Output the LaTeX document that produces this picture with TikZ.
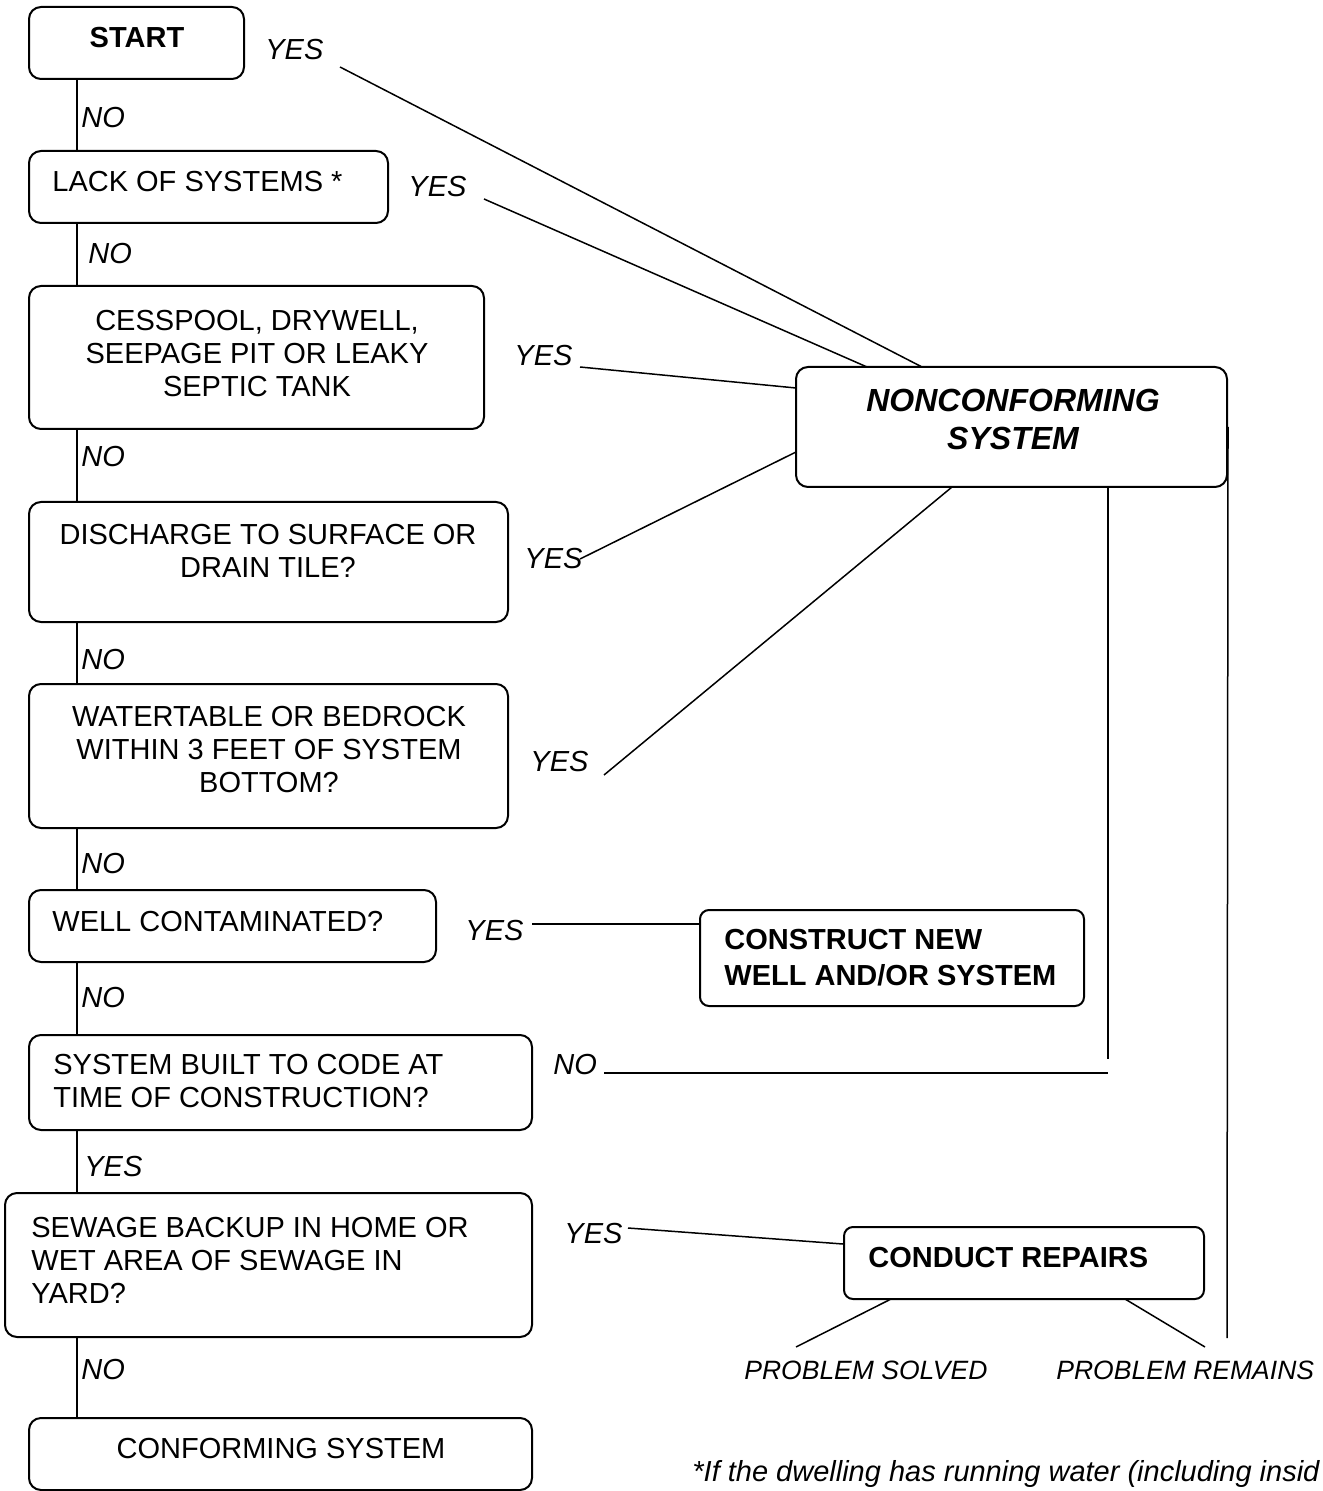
\documentclass[tikz,border=0pt]{standalone}
\usepackage{fontspec}
\setmainfont{Liberation Sans}
\usetikzlibrary{fit}
\tikzset{
  box/.style={draw, line width=1pt, rounded corners=6pt, inner sep=0pt},
  sbox/.style={box, rounded corners=4.5pt},
  conn/.style={line width=0.75pt},
  txt/.style={inner sep=0pt, font=\fontsize{14.5}{16.5}\selectfont},
  btxt/.style={inner sep=0pt, font=\fontsize{14.5}{18}\selectfont\bfseries},
  lbl/.style={inner sep=0pt, font=\fontsize{14.5}{16.5}\selectfont\itshape},
  slbl/.style={inner sep=0pt, font=\fontsize{13.25}{16}\selectfont\itshape},
}
\begin{document}
\begin{tikzpicture}[x=0.5pt, y=-0.5pt]
\useasboundingbox (0,0) rectangle (1322,1491);
\clip (0,0) rectangle (1322,1491);

% ---------- boxes ----------
\node[box, fit={(29,7) (244,79)}] (start) {};
\node[box, fit={(29,151) (388,223)}] (lack) {};
\node[box, fit={(29,286) (484,429)}] (cess) {};
\node[box, fit={(29,502) (508,622)}] (disch) {};
\node[box, fit={(29,684) (508,828)}] (water) {};
\node[box, fit={(29,890) (436,962)}] (well) {};
\node[box, fit={(29,1035) (532,1130)}] (built) {};
\node[box, fit={(5,1193) (532,1337)}] (sewage) {};
\node[box, fit={(29,1418) (532,1490)}] (conform) {};
\node[box, fit={(796,367) (1227,487)}] (nc) {};
\node[sbox, fit={(700,910) (1084,1006)}] (constr) {};
\node[sbox, fit={(844,1227) (1204,1299)}] (repairs) {};

% ---------- box texts ----------
\node[btxt, anchor=base] (startT) at (137,48) {START};
\node[txt, anchor=base west] (lackT) at (52,192) {LACK OF SYSTEMS *};
\node[txt, align=center] (cessT) at (257,353.5) {CESSPOOL, DRYWELL,\\SEEPAGE PIT OR LEAKY\\SEPTIC TANK};
\node[txt, align=center] (dischT) at (268,550.5) {DISCHARGE TO SURFACE OR\\DRAIN TILE?};
\node[txt, align=center] (waterT) at (269,750) {WATERTABLE OR BEDROCK\\WITHIN 3 FEET OF SYSTEM\\BOTTOM?};
\node[txt, anchor=base west] (wellT) at (52,931) {WELL CONTAMINATED?};
\node[txt, align=left, anchor=west] (builtT) at (53,1081) {SYSTEM BUILT TO CODE AT\\TIME OF CONSTRUCTION?};
\node[txt, align=left, anchor=west] (sewageT) at (31,1260) {SEWAGE BACKUP IN HOME OR\\WET AREA OF SEWAGE IN\\YARD?};
\node[txt, anchor=base] (conformT) at (281,1458) {CONFORMING SYSTEM};
\node[inner sep=0pt, align=center, font=\fontsize{16}{19}\selectfont\bfseries\itshape] (ncT) at (1013,419) {NONCONFORMING\\SYSTEM};
\node[btxt, align=left, anchor=west] (constrT) at (724,958) {CONSTRUCT NEW\\WELL AND/OR SYSTEM};
\node[btxt, anchor=base west] (repairsT) at (868,1267) {CONDUCT REPAIRS};

% ---------- labels ----------
\node[lbl, anchor=base west] (yes1) at (265,60) {YES};
\node[lbl, anchor=base west] (no1) at (81,128) {NO};
\node[lbl, anchor=base west] (yes2) at (408,197) {YES};
\node[lbl, anchor=base west] (no2) at (88,264) {NO};
\node[lbl, anchor=base west] (yes3) at (514,366) {YES};
\node[lbl, anchor=base west] (no3) at (81,467) {NO};
\node[lbl, anchor=base west] (yes4) at (524,568) {YES};
\node[lbl, anchor=base west] (no4) at (81,669) {NO};
\node[lbl, anchor=base west] (yes5) at (530,771) {YES};
\node[lbl, anchor=base west] (no5) at (81,873) {NO};
\node[lbl, anchor=base west] (yes6) at (465,940) {YES};
\node[lbl, anchor=base west] (no6) at (81,1007) {NO};
\node[lbl, anchor=base west] (no7) at (553,1074) {NO};
\node[lbl, anchor=base west] (yes7) at (84,1176) {YES};
\node[lbl, anchor=base west] (yes8) at (564,1243) {YES};
\node[lbl, anchor=base west] (no8) at (81,1379) {NO};
\node[slbl, anchor=base west] (solved) at (744,1379) {PROBLEM SOLVED};
\node[slbl, anchor=base west] (remains) at (1056,1379) {PROBLEM REMAINS};
\node[lbl, anchor=base west] (foot) at (692,1481) {*If the dwelling has running water (including insid};

% ---------- connector end points ----------
\coordinate (spine) at (77,0);
\coordinate (y1e) at (340,67);
\coordinate (nc1) at (922,367);
\coordinate (y2e) at (484,199);
\coordinate (nc2) at (867,367);
\coordinate (y3e) at (580,367);
\coordinate (nc3) at (796,388);
\coordinate (y4e) at (580,559);
\coordinate (nc4) at (796,452);
\coordinate (y5e) at (604,775);
\coordinate (nc5) at (952,487);
\coordinate (y6e) at (532,924);
\coordinate (no7e) at (604,1073);
\coordinate (ncv) at (1108,1059);
\coordinate (ncvh) at (1108,1073);
\coordinate (y8e) at (628,1228);
\coordinate (rp1) at (891,1299);
\coordinate (sv) at (796,1347);
\coordinate (rp2) at (1125,1299);
\coordinate (rm) at (1205,1347);
\coordinate (pr) at (1227,1338);

% ---------- connectors ----------
\draw[conn] (start.south -| spine) -- (lack.north -| spine);
\draw[conn] (lack.south -| spine) -- (cess.north -| spine);
\draw[conn] (cess.south -| spine) -- (disch.north -| spine);
\draw[conn] (disch.south -| spine) -- (water.north -| spine);
\draw[conn] (water.south -| spine) -- (well.north -| spine);
\draw[conn] (well.south -| spine) -- (built.north -| spine);
\draw[conn] (built.south -| spine) -- (sewage.north -| spine);
\draw[conn] (sewage.south -| spine) -- (conform.north -| spine);

\draw[conn] (y1e) -- (nc1);
\draw[conn] (y2e) -- (nc2);
\draw[conn] (y3e) -- (nc3);
\draw[conn] (y4e) -- (nc4);
\draw[conn] (y5e) -- (nc5);
\draw[conn] (y6e) -- (constr.west |- y6e);
\draw[conn] (nc.south -| ncv) -- (ncv);
\draw[conn] (no7e) -- (ncvh);
\draw[conn] (y8e) -- (repairs.west |- 0,1244);
\draw[conn] (rp1) -- (sv);
\draw[conn] (rp2) -- (rm);
\draw[conn] (nc.east) -- (pr);
\end{tikzpicture}
\end{document}
